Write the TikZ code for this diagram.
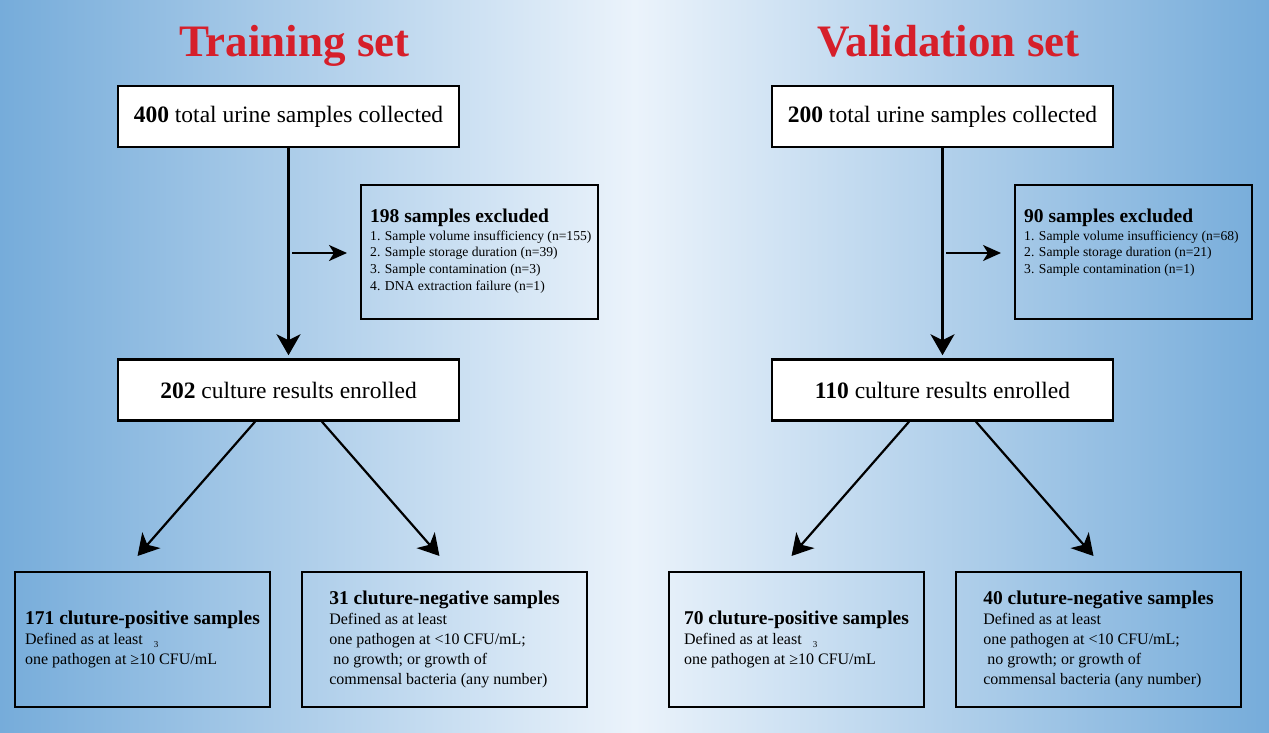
\documentclass[tikz,border=0pt]{standalone}
\usepackage{fontspec}
\setmainfont{Liberation Serif}
\usepackage{xcolor}
\usepackage{tikz}
\usetikzlibrary{arrows.meta,positioning,shapes}

\definecolor{titlered}{RGB}{214,31,42}
\definecolor{bgedge}{RGB}{118,172,218}
\definecolor{bgmid}{RGB}{235,243,251}

\tikzset{
	headbox/.style={draw, line width=2.5pt, fill=white, minimum width=341pt, minimum height=61pt, inner sep=0pt, font=\fontsize{23.5}{28}\selectfont},
	exclbox/.style={draw, line width=2pt, minimum width=237pt, minimum height=134pt, inner sep=0pt},
	excltext/.style={align=left, inner sep=0pt, font=\fontsize{13.6}{16.6}\selectfont},
	resbox/.style={draw, line width=2pt, minimum height=135pt, inner sep=0pt, align=left, font=\fontsize{16}{20}\selectfont},
	settitle/.style={text=titlered, font=\fontsize{45}{50}\selectfont\bfseries}
}

\begin{document}
\begin{tikzpicture}[x=1pt, y=-1pt, >={Stealth[length=21pt,width=24pt,inset=6pt]}]
					% Background
					\useasboundingbox (0,0) rectangle (1269,733);
					\fill[left color=bgedge, right color=bgedge, middle color=bgmid] (0,0) rectangle (1269,733);
					
					% Both sets
					\foreach \s/\i/\ttl/\tot/\exn/\exl/\enr/\np/\nn in {
						0/T/Training/400/198/{1. Sample volume insufficiency (n=155)\\2. Sample storage duration (n=39)\\3. Sample contamination (n=3)\\4. DNA extraction failure (n=1)}/202/171/31,
						654/V/Validation/200/90/{1. Sample volume insufficiency (n=68)\\2. Sample storage duration (n=21)\\3. Sample contamination (n=1)}/110/70/40} {
						\node[settitle, anchor=base] (title\i) at (294.5+\s, 57) {\ttl{} set};
						
						% Collected and enrolled
						\node[headbox] (tot\i) at (288.5+\s, 116.5) {\textbf{\tot} total urine samples collected};
						\node[headbox] (enr\i) at (288.5+\s, 390) {\textbf{\enr} culture results enrolled};
						\draw[->, line width=2.5pt, shorten >=3pt] (tot\i) -- (enr\i);
						
						% Excluded
						\node[exclbox] (ex\i) at (479.5+\s, 252) {};
						\node[excltext, anchor=north west] (exT\i) at (370+\s, 209) {{\fontsize{19.5}{20}\selectfont\bfseries \exn{} samples excluded}\\[1pt]\exl};
						\coordinate (br\i) at (292+\s, 253);
						\draw[-{Stealth[length=18pt,width=16pt,inset=5pt]}, line width=2pt, shorten >=13pt] (br\i) -- (ex\i.west |- br\i);
						
						% Culture results
						\node[resbox, minimum width=255pt] (pos\i) at (142.5+\s, 639.5) {{\fontsize{19.5}{20}\selectfont\bfseries \np{} cluture-positive samples}\\Defined as at least\hspace{11pt}\raisebox{-3pt}{\fontsize{9}{9}\selectfont 3}\\one pathogen at ≥10 CFU/mL};
						\node[resbox, minimum width=285pt] (neg\i) at (444.5+\s, 639.5) {{\fontsize{19.5}{20}\selectfont\bfseries \nn{} cluture-negative samples}\\Defined as at least\\one pathogen at <10 CFU/mL;\\\ no growth; or growth of\\commensal bacteria (any number)};
						\draw[->, line width=2.2pt] ([xshift=-33.5pt]enr\i.south) -- ([xshift=-5pt,yshift=15pt]pos\i.north);
						\draw[->, line width=2.2pt] ([xshift=33.5pt]enr\i.south) -- ([xshift=-5pt,yshift=15pt]neg\i.north);
					}
				\end{tikzpicture}
\end{document}
